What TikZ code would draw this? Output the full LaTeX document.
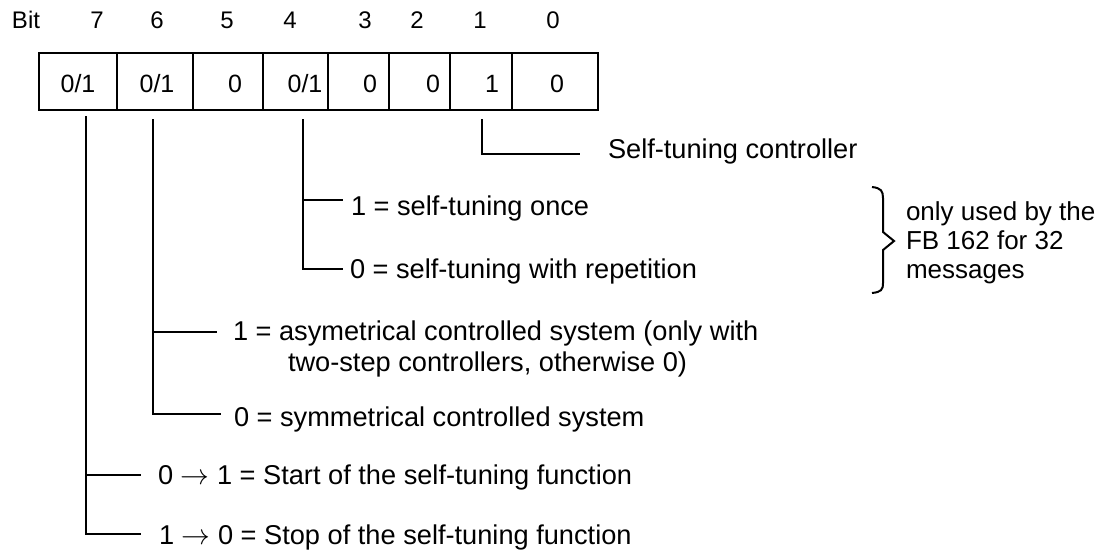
\documentclass[tikz,border=0pt]{standalone}
\usepackage{fontspec}
\setmainfont{Liberation Sans}

\begin{document}
\begin{tikzpicture}[x=0.5pt, y=-0.5pt, line width=1pt,
  hdr/.style={anchor=base, inner sep=0pt, font=\fontsize{12}{14}\selectfont},
  val/.style={anchor=base, inner sep=0pt, font=\fontsize{12.5}{14}\selectfont},
  lbl/.style={anchor=base west, inner sep=0pt, align=left, font=\fontsize{13.6}{15.5}\selectfont}]

\useasboundingbox (0,0) rectangle (1111,553);

% Bit numbers
\node[hdr] (bit) at (26,28) {Bit};
\foreach \b/\x in {7/97, 6/157, 5/227, 4/290, 3/365, 2/417, 1/480, 0/553}
  \node[hdr] (n\b) at (\x,28) {\b};

% Register
\draw (39,53) rectangle (598,110);
\foreach \x in {117,193,263,328,389,450,512}
  \draw (\x,53) -- (\x,110);
\foreach \b/\x/\v in {7/78/{0/1}, 6/157/{0/1}, 5/235/0, 4/305/{0/1}, 3/370/0, 2/433/0, 1/492/1, 0/557/0}
  \node[val] (v\b) at (\x,92) {\v};

% Bit 1
\coordinate (t1) at (482,119);
\coordinate (e1) at (580,154);
\draw (t1) |- (e1);
\node[lbl] (ctrl) at (607,158) {Self-tuning controller};

% Bit 4
\coordinate (t4) at (303,119);
\coordinate (e4a) at (343,200);
\coordinate (e4b) at (343,269);
\draw (t4) |- (e4b);
\draw (t4 |- e4a) -- (e4a);
\node[lbl] (once) at (350,215) {1 = self-tuning once};
\node[lbl] (rep) at (349,278) {0 = self-tuning with repetition};

% only FB 162
\draw (872,187) .. controls (881,188) and (883,191) .. (883,198) -- (883,232) -- (894,241)
  -- (883,250) -- (883,283) .. controls (883,290) and (881,292) .. (872,293);
\node[lbl, font=\fontsize{13}{14.5}\selectfont] (fb) at (905,278) {only used by the\\FB 162 for 32\\messages};

% Bit 6
\coordinate (t6) at (153,119);
\coordinate (e6a) at (217,332);
\coordinate (e6b) at (221,414);
\draw (t6) |- (e6b);
\draw (t6 |- e6a) -- (e6a);
\node[lbl] (asym) at (232,371) {1 = asymetrical controlled system (only with\\\hspace*{27.5pt}two-step controllers, otherwise 0)};
\node[lbl] (sym) at (233,426) {0 = symmetrical controlled system};

% Bit 7
\coordinate (t7) at (86,116);
\coordinate (e7a) at (141,475);
\coordinate (e7b) at (141,534);
\draw (t7) |- (e7b);
\draw (t7 |- e7a) -- (e7a);
\node[lbl] (start) at (157,484) {0 $\rightarrow$ 1 = Start of the self-tuning function};
\node[lbl] (stop) at (158,544) {1 $\rightarrow$ 0 = Stop of the self-tuning function};

\end{tikzpicture}
\end{document}
